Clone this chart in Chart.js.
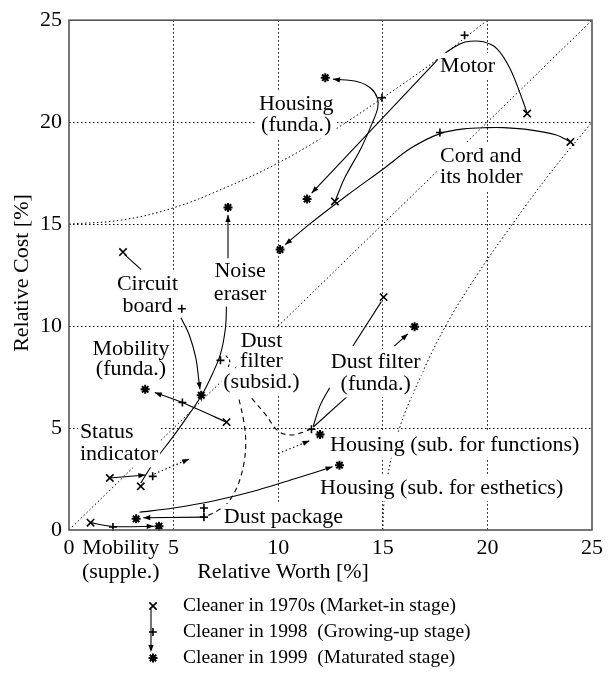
<!DOCTYPE html>
<html>
<head>
<meta charset="utf-8">
<script src="https://cdn.jsdelivr.net/npm/chart.js@4.4.1/dist/chart.umd.min.js"></script>
<style>
  html, body { margin: 0; padding: 0; background: #fff; }
  #wrap { width: 608px; height: 682px; }
</style>
</head>
<body>
<div id="wrap"><canvas id="c" width="608" height="682"></canvas></div>
<script>
// ---- axis ticks ----
const xTicks = [0, 5, 10, 15, 20, 25];
const yTicks = [0, 5, 10, 15, 20, 25];
const xTickLabels = ['0', '5', '10', '15', '20', '25'];
const yTickLabels = ['0', '5', '10', '15', '20', '25'];

// ---- stage series: [relative worth %, relative cost %] ----
const legendLabels = [
  'Cleaner in 1970s (Market-in stage)',
  'Cleaner in 1998  (Growing-up stage)',
  'Cleaner in 1999  (Maturated stage)'
];
const cleaner1970s = [
  [2.58, 13.63], [21.9, 20.42], [23.97, 19.03], [12.71, 16.11], [15.04, 11.42],
  [7.53, 5.29], [1.95, 2.55], [3.43, 2.14], [1.03, 0.36]
];
const cleaner1998 = [
  [5.39, 10.85], [18.91, 24.26], [17.73, 19.49], [14.96, 21.2], [11.59, 4.94],
  [5.42, 6.25], [4.0, 2.63], [7.24, 8.32], [2.1, 0.15], [6.45, 1.08], [6.45, 0.63]
];
const cleaner1999 = [
  [7.6, 15.82], [12.25, 22.18], [11.38, 16.23], [10.09, 13.75], [6.32, 6.61],
  [3.64, 6.9], [16.52, 9.97], [12.0, 4.68], [12.93, 3.18], [3.21, 0.55], [4.3, 0.19]
];

// ---- reference lines ----
const equalLine = [[0, 0], [25, 25]];
const upperBound = [[0, 15], [2.5, 15.2], [5, 15.8], [7.5, 16.8], [10, 18.0], [12.5, 19.5], [15, 21.2], [17.5, 23.0], [20, 25]];
const lowerBound = [[15, 0], [15.05, 1.25], [15.2, 2.5], [15.8, 5], [16.8, 7.5], [18, 10], [19.5, 12.5], [21.2, 15], [23, 17.5], [25, 20]];

// ---- movement paths between stages ----
const motorCurve = [[21.9, 20.42], [21.71, 21.0], [21.08, 22.63], [20.45, 23.61], [19.81, 23.94], [19.18, 23.97], [18.71, 23.85], [18.07, 23.45], [17.6, 23.04]];
const motorLine = [[17.6, 23.04], [11.6, 16.52]];
const housingFundaPath = [[12.71, 16.11], [13.17, 17.25], [13.96, 18.72], [14.52, 20.02], [14.75, 20.67], [14.75, 21.16], [14.44, 21.65], [13.8, 21.98], [12.62, 22.11]];
const cordPath = [[23.97, 19.03], [23.29, 19.37], [22.03, 19.62], [20.76, 19.73], [19.97, 19.73], [18.87, 19.67], [17.76, 19.45], [16.33, 18.72], [15.07, 17.74], [13.33, 16.44], [11.5, 15.0], [10.33, 13.99]];
const circuitLead = [[2.66, 13.5], [3.45, 12.77]];
const circuitArrow = [[5.35, 10.41], [5.74, 9.59], [6.06, 8.45], [6.21, 7.31], [6.26, 6.9]];
const noiseCurve = [[7.53, 11.14], [7.48, 9.92], [7.24, 8.62], [6.85, 7.64], [6.37, 6.66], [5.74, 5.68], [4.95, 4.54], [4.16, 3.48], [3.43, 2.3]];
const noiseArrow = [[7.6, 13.0], [7.6, 15.45]];
const mobilityFundaPath = [[7.53, 5.29], [5.42, 6.25], [4.1, 6.74]];
const statusPath = [[1.95, 2.55], [2.8, 2.62], [3.65, 2.7]];
const statusNext = [[4.08, 2.75], [5.74, 3.48]];
const mobilitySupplePath = [[1.03, 0.36], [2.1, 0.17], [4.05, 0.18]];
const dustPackageBar = [[6.45, 1.08], [6.45, 0.63]];
const dustPackageArrow = [[6.45, 0.63], [3.55, 0.6]];
const estheticsPath = [[3.37, 0.87], [5.0, 1.08], [7.0, 1.45], [9.0, 1.95], [10.9, 2.55], [12.6, 3.1]];
const functionsNext = [[10.0, 3.75], [11.5, 4.38]];
const subsidLeadA = [[8.13, 6.4], [8.35, 5.35], [8.45, 4.3], [8.35, 3.2], [8.05, 2.15], [7.6, 1.35], [7.1, 0.95], [6.55, 0.66]];
const subsidLeadB = [[8.74, 6.45], [9.38, 5.68], [10.0, 4.85], [10.6, 4.66], [11.2, 4.8], [11.5, 4.93]];
const subsidLeadC = [[7.5, 8.55], [7.68, 8.3], [7.62, 8.0]];
const filterFundaUp = [[13.57, 9.02], [14.93, 11.2]];
const filterFundaArrow = [[15.55, 9.02], [16.2, 9.62]];
const filterFundaLeadA = [[12.46, 6.98], [12.0, 6.1], [11.68, 5.1]];
const filterFundaLeadB = [[13.33, 6.58], [11.68, 5.05]];

// ---- component names (anchor in axis units, first line) ----
const componentLabels = [
  { lines: ['Motor'], x: 17.74, y: 22.76, align: 'left' },
  { lines: ['Housing', '(funda.)'], x: 10.86, y: 20.86, align: 'center', block: true },
  { lines: ['Cord and', 'its holder'], x: 17.74, y: 18.31, align: 'left', block: true },
  { lines: ['Circuit', 'board'], x: 3.75, y: 12.03, align: 'center', block: true, gap: 22 },
  { lines: ['Noise', 'eraser'], x: 8.18, y: 12.69, align: 'center', block: true, gap: 22.5 },
  { lines: ['Mobility', '(funda.)'], x: 2.96, y: 8.85, align: 'center', block: true, gap: 20 },
  { lines: ['Dust', 'filter', '(subsid.)'], x: 9.2, y: 9.27, align: 'center', gap: 20.5 },
  { lines: ['Status', 'indicator'], x: 0.52, y: 4.79, align: 'left', block: true, gap: 22 },
  { lines: ['Dust filter', '(funda.)'], x: 14.66, y: 8.22, align: 'center', gap: 22 },
  { lines: ['Housing (sub. for functions)'], x: 12.48, y: 4.18, align: 'left' },
  { lines: ['Housing (sub. for esthetics)'], x: 12.0, y: 2.05, align: 'left' },
  { lines: ['Dust package'], x: 7.4, y: 0.64, align: 'left' },
  { lines: ['Mobility', '(supple.)'], x: 2.47, y: -0.9, align: 'center', gap: 24, noBox: true }
];

const FONT = "'Liberation Serif', 'Times New Roman', serif";
const INK = '#000';

function pts(a) { return a.map(p => ({ x: p[0], y: p[1] })); }

function reference(data) {
  return {
    data: pts(data), showLine: true, borderColor: INK, borderWidth: 1,
    borderDash: [1.5, 2.5], pointRadius: 0, pointHoverRadius: 0,
    tension: 0.4, fill: false, order: 2
  };
}
function path(data, extra) {
  return Object.assign({
    data: pts(data), showLine: true, borderColor: INK, borderWidth: 1.1,
    pointRadius: 0, pointHoverRadius: 0, tension: 0.35, fill: false,
    order: 1, clip: false
  }, extra || {});
}
const DASH = [5, 4];
const DOT = [1.5, 2.5];

function markers(label, data, style, radius, width) {
  return {
    label: label, data: pts(data), showLine: false, isMarker: true,
    pointStyle: style, pointRadius: radius, pointHoverRadius: radius,
    pointBorderWidth: width, pointBorderColor: INK, pointBackgroundColor: INK,
    borderColor: INK, backgroundColor: INK, order: 0, clip: false
  };
}

const datasets = [
  markers(legendLabels[0], cleaner1970s, 'crossRot', 5.2, 1.6),
  markers(legendLabels[1], cleaner1998, 'cross', 4, 1.6),
  markers(legendLabels[2], cleaner1999, 'star', 4.5, 2),

  reference(equalLine),
  reference(upperBound),
  reference(lowerBound),

  path(motorCurve),
  path(motorLine, { tension: 0, arrow: true }),
  path(housingFundaPath, { arrow: true }),
  path(cordPath, { tension: 0.3, arrow: true }),
  path(circuitLead, { tension: 0 }),
  path(circuitArrow, { arrow: true }),
  path(noiseCurve),
  path(noiseArrow, { tension: 0, arrow: true }),
  path(mobilityFundaPath, { tension: 0.15, arrow: true }),
  path(statusPath, { arrow: true }),
  path(statusNext, { tension: 0, borderDash: DOT, arrow: true }),
  path(mobilitySupplePath, { tension: 0.2, arrow: true }),
  path(dustPackageBar, { tension: 0 }),
  path(dustPackageArrow, { tension: 0, arrow: true }),
  path(estheticsPath, { arrow: true }),
  path(functionsNext, { tension: 0, borderDash: DOT, arrow: true }),
  path(subsidLeadA, { borderDash: DASH }),
  path(subsidLeadB, { borderDash: DASH }),
  path(subsidLeadC, { borderDash: [3, 2] }),
  path(filterFundaUp, { tension: 0 }),
  path(filterFundaArrow, { tension: 0, arrow: true }),
  path(filterFundaLeadA),
  path(filterFundaLeadB, { tension: 0 })
];

function arrowHead(ctx, fromX, fromY, toX, toY, len, half) {
  const a = Math.atan2(toY - fromY, toX - fromX);
  ctx.save();
  ctx.translate(toX, toY);
  ctx.rotate(a);
  ctx.beginPath();
  ctx.moveTo(0, 0);
  ctx.lineTo(-len, -half);
  ctx.lineTo(-len, half);
  ctx.closePath();
  ctx.fillStyle = INK;
  ctx.fill();
  ctx.restore();
}

function drawLabels(chart) {
  const ctx = chart.ctx;
  const xs = chart.scales.x, ys = chart.scales.y;
  ctx.save();
  ctx.font = '22px ' + FONT;
  ctx.textBaseline = 'middle';
  componentLabels.forEach(lb => {
    const gap = lb.gap || 21;
    const x0 = xs.getPixelForValue(lb.x);
    const y0 = ys.getPixelForValue(lb.y);
    const widths = lb.lines.map(t => ctx.measureText(t).width);
    const maxW = Math.max.apply(null, widths);
    const h = 26;
    if (!lb.noBox) {
      ctx.fillStyle = '#fff';
      if (lb.block) {
        const left = lb.align === 'left' ? x0 : x0 - maxW / 2;
        ctx.fillRect(left - 2, y0 - h / 2, maxW + 4, gap * (lb.lines.length - 1) + h);
      } else {
        lb.lines.forEach((t, i) => {
          const w = widths[i];
          const left = lb.align === 'left' ? x0 : x0 - w / 2;
          ctx.fillRect(left - 2, y0 + i * gap - h / 2, w + 4, h);
        });
      }
    }
    ctx.fillStyle = INK;
    ctx.textAlign = lb.align;
    lb.lines.forEach((t, i) => ctx.fillText(t, x0, y0 + i * gap));
  });
  ctx.restore();
}

const overlay = {
  id: 'overlay',
  beforeDatasetsDraw(chart) { chart.$labelsDone = false; },
  beforeDatasetDraw(chart, args) {
    const ds = chart.data.datasets[args.index];
    if (ds.isMarker && !chart.$labelsDone) {
      drawLabels(chart);
      chart.$labelsDone = true;
    }
  },
  afterDatasetDraw(chart, args) {
    const ds = chart.data.datasets[args.index];
    if (!ds.arrow) return;
    const els = args.meta.data;
    const n = els.length;
    const end = els[n - 1];
    let fx = end.cp1x, fy = end.cp1y;
    if (fx === undefined || (Math.abs(fx - end.x) < 0.5 && Math.abs(fy - end.y) < 0.5)) {
      fx = els[n - 2].x; fy = els[n - 2].y;
    }
    arrowHead(chart.ctx, fx, fy, end.x, end.y, 7, 2.6);
  },
  afterDraw(chart) {
    const ctx = chart.ctx;
    const a = chart.chartArea;
    ctx.save();
    // plot frame
    ctx.strokeStyle = '#555';
    ctx.lineWidth = 1.6;
    ctx.strokeRect(a.left, a.top, a.right - a.left, a.bottom - a.top);

    // axis titles
    ctx.fillStyle = INK;
    ctx.font = '22px ' + FONT;
    ctx.textAlign = 'center';
    ctx.textBaseline = 'middle';
    ctx.fillText('Relative Worth [%]', 283, 572);
    ctx.save();
    ctx.translate(22, 273);
    ctx.rotate(-Math.PI / 2);
    ctx.fillText('Relative Cost [%]', 0, 0);
    ctx.restore();

    // stage legend
    const rows = [606, 632, 658];
    const styles = [['crossRot', 5.2, 1.6], ['cross', 4, 1.6], ['star', 4.5, 2]];
    const mx = 153;
    ctx.strokeStyle = INK;
    ctx.fillStyle = INK;
    styles.forEach((s, i) => {
      ctx.lineWidth = s[2];
      Chart.helpers.drawPoint(ctx, { pointStyle: s[0], radius: s[1], borderWidth: s[2], rotation: 0 }, mx, rows[i]);
    });
    ctx.lineWidth = 1.1;
    ctx.beginPath();
    ctx.moveTo(mx - 2, rows[0] + 3);
    ctx.lineTo(mx - 2, rows[2] - 8);
    ctx.stroke();
    arrowHead(ctx, mx - 2, rows[0], mx - 2, rows[2] - 6, 7, 2.6);
    ctx.font = '19.5px ' + FONT;
    ctx.textAlign = 'left';
    legendLabels.forEach((t, i) => ctx.fillText(t, 183, rows[i]));
    ctx.restore();
  }
};

const gridColor = (c) => (c.tick && (c.tick.value === 0 || c.tick.value === 25)) ? 'rgba(0,0,0,0)' : INK;

new Chart(document.getElementById('c'), {
  type: 'scatter',
  data: { datasets: datasets },
  options: {
    responsive: false,
    animation: false,
    devicePixelRatio: 1,
    layout: { padding: { top: 18, right: 12, left: 0, bottom: 0 } },
    plugins: { legend: { display: false }, tooltip: { enabled: false } },
    scales: {
      x: {
        type: 'linear', min: 0, max: 25,
        afterBuildTicks: s => { s.ticks = xTicks.map(v => ({ value: v })); },
        afterFit: s => { s.height = 152; },
        ticks: {
          color: INK, padding: 5, maxRotation: 0, autoSkip: false,
          font: { family: FONT, size: 22 },
          callback: v => xTickLabels[xTicks.indexOf(v)]
        },
        grid: { color: gridColor, lineWidth: 1, drawTicks: false },
        border: { display: false, dash: [1.5, 2.5] }
      },
      y: {
        type: 'linear', min: 0, max: 25,
        afterBuildTicks: s => { s.ticks = yTicks.map(v => ({ value: v })); },
        afterFit: s => { s.width = 69; },
        ticks: {
          color: INK, padding: 7, autoSkip: false,
          font: { family: FONT, size: 22 },
          callback: v => yTickLabels[yTicks.indexOf(v)]
        },
        grid: { color: gridColor, lineWidth: 1, drawTicks: false },
        border: { display: false, dash: [1.5, 2.5] }
      }
    }
  },
  plugins: [overlay]
});
</script>
</body>
</html>
